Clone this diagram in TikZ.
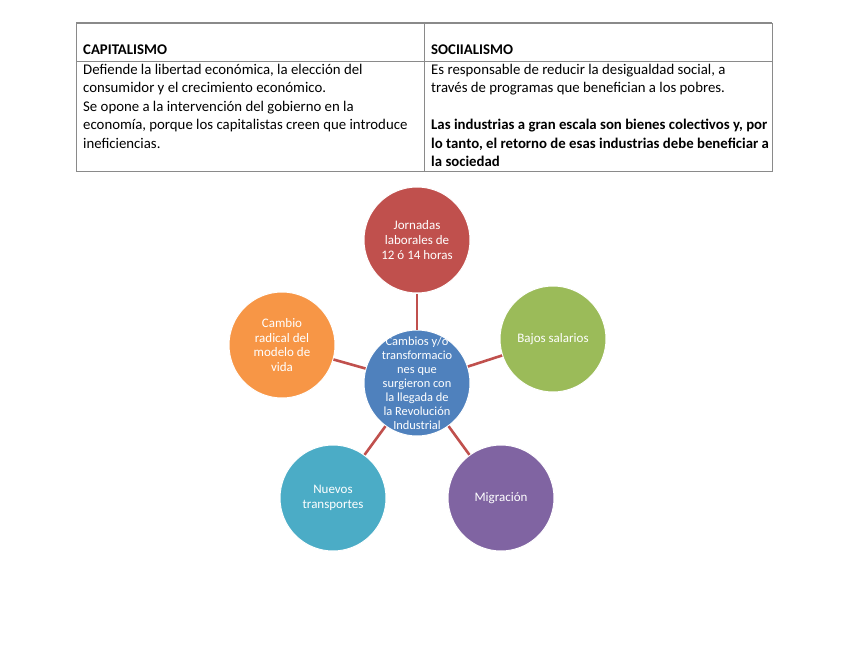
\documentclass[tikz,border=0pt]{standalone}
\usepackage{fontspec}
\setmainfont{Carlito}
\usepackage{tikz}
\usetikzlibrary{positioning, calc}
\definecolor{cred}{HTML}{C0504D}
\definecolor{cgreen}{HTML}{9BBB59}
\definecolor{corange}{HTML}{F79646}
\definecolor{cteal}{HTML}{4BACC6}
\definecolor{cpurple}{HTML}{8064A2}
\definecolor{cblue}{HTML}{4F81BD}
\definecolor{rule}{HTML}{8A8A8A}
\tikzstyle{cell}    = [anchor=north west, inner sep=0pt, align=left, text=black, font=\fontsize{14.8}{18.4}\selectfont]
\tikzstyle{head}    = [anchor=west, inner sep=0pt, text=black, font=\fontsize{14.8}{18.4}\selectfont\bfseries]
\tikzstyle{bubble}  = [circle, minimum size=106pt, inner sep=2pt, text=white, align=center, draw=white, line width=1pt, font=\fontsize{13}{14.6}\selectfont]
\tikzstyle{link}    = [line width=2.6pt, draw=cred]

\begin{document}
\begin{tikzpicture}[x=1pt, y=-1pt]
  \useasboundingbox (0,0) rectangle (848,655);

  % table
  \draw[rule, line width=1.6pt] (76,23) -- (772,23);
  \draw[rule, line width=0.9pt] (76,23) -- (76,171) -- (772,171) -- (772,23);
  \draw[rule, line width=0.9pt] (424,23) -- (424,171);
  \draw[rule, line width=0.9pt] (76,61) -- (772,61);

  \node[head] (hcap) at (83,50) {CAPITALISMO};
  \node[head] (hsoc) at (431,50) {SOCIIALISMO};
  \node[cell] (tcap) at (83,64) {Defiende la libertad económica, la elección del\\
    consumidor y el crecimiento económico.\\
    Se opone a la intervención del gobierno en la\\
    economía, porque los capitalistas creen que introduce\\
    ineficiencias.};
  \node[cell] (tsoc) at (431,64) {Es responsable de reducir la desigualdad social, a\\
    través de programas que benefician a los pobres.\\[18.4pt]
    \textbf{Las industrias a gran escala son bienes colectivos y, por}\\
    \textbf{lo tanto, el retorno de esas industrias debe beneficiar a}\\
    \textbf{la sociedad}};

  % cycle
  \node[bubble, fill=cblue, label={[text=white, align=center, font=\fontsize{12.4}{14}\selectfont]center:{Cambios y/o\\transformacio\\nes que\\surgieron con\\la llegada de\\la Revolución\\Industrial}}] (core) at (417,383) {};
  \node[bubble, fill=cred]    (jornadas)   at (417,240) {Jornadas\\laborales de\\12 ó 14 horas};
  \node[bubble, fill=cgreen]  (salarios)   at (553,339) {Bajos salarios};
  \node[bubble, fill=cpurple] (migracion)  at (501,498) {Migración};
  \node[bubble, fill=cteal]   (transporte) at (333,498) {Nuevos\\transportes};
  \node[bubble, fill=corange] (vida)       at (282,345) {Cambio\\radical del\\modelo de\\vida};

  \draw[link] (core) -- (jornadas);
  \draw[link] (core) -- (salarios);
  \draw[link] (core) -- (migracion);
  \draw[link] (core) -- (transporte);
  \draw[link] (core) -- (vida);
\end{tikzpicture}
\end{document}
